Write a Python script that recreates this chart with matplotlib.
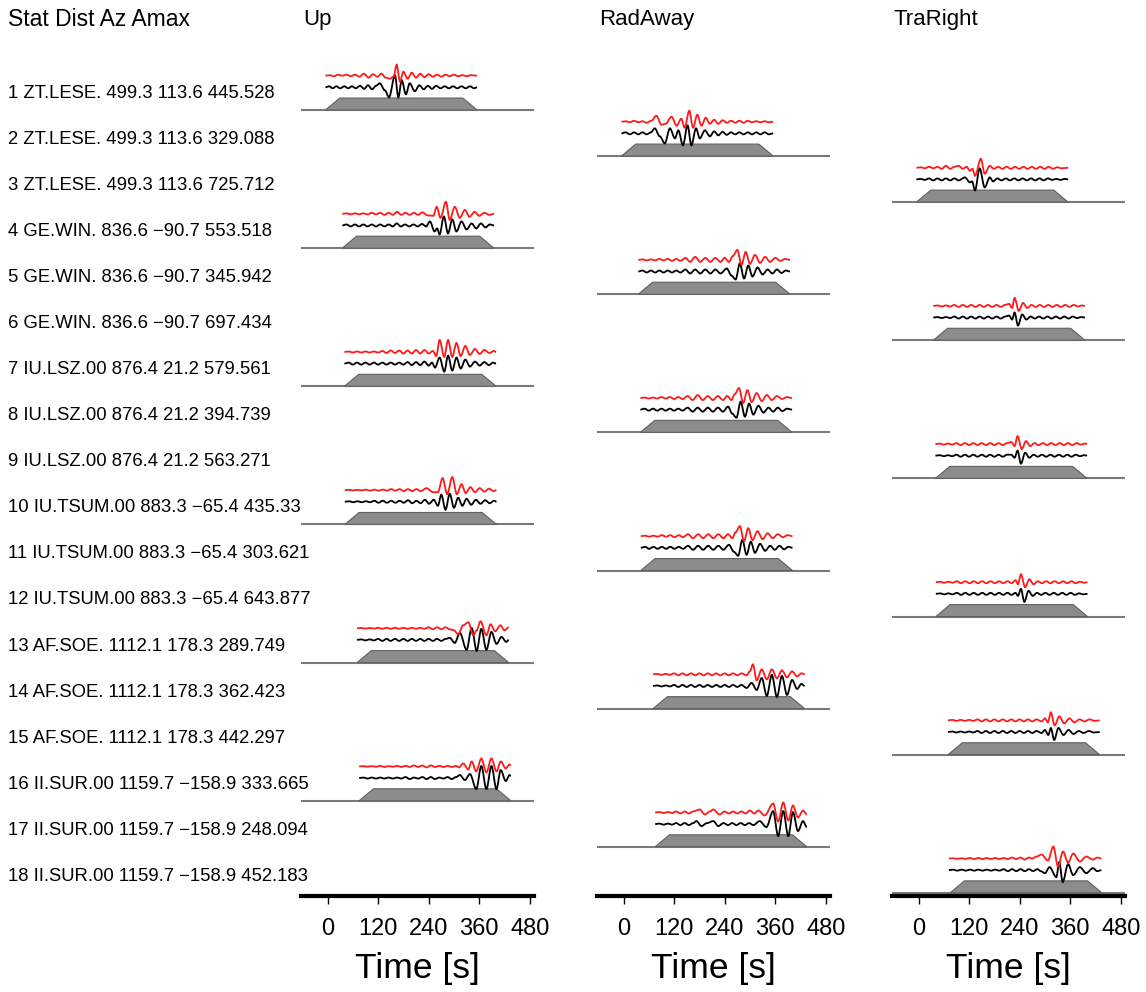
"""
Waveform fit panels: observed (black) vs synthetic (red) per station/component.
"""

import matplotlib
matplotlib.use("Agg")
import matplotlib.pyplot as plt
from matplotlib.path import Path
from matplotlib.patches import PathPatch
from matplotlib.transforms import blended_transform_factory

plt.rcParams["font.family"] = ["Liberation Sans", "DejaVu Sans"]

# ---- data -------------------------------------------------------------------
COMPONENTS = ["Up", "RadAway", "TraRight"]
STATIONS = ["ZT.LESE.", "GE.WIN.", "IU.LSZ.00", "IU.TSUM.00", "AF.SOE.", "II.SUR.00"]
DISTANCES = ["499.3", "836.6", "876.4", "883.3", "1112.1", "1159.7"]
AZIMUTHS = ["113.6", "\u221290.7", "21.2", "\u221265.4", "178.3", "\u2212158.9"]
AMAX = ["445.528", "329.088", "725.712", "553.518", "345.942", "697.434",
        "579.561", "394.739", "563.271", "435.33", "303.621", "643.877",
        "289.749", "362.423", "442.297", "333.665", "248.094", "452.183"]
WINDOW_START = [-5, 35, 40, 41, 70, 75]   # s, per station
WINDOW_LEN = 360
TAPER_LEN = 34
X_TICKS = [0, 120, 240, 360, 480]

# waveforms: (time [s], amplitude) at extrema
BLACK_01 = [(-5, 0), (4, 1), (12, -1), (21, 1), (30, -1), (40, 1), (49, -1), (58, 1), (67, -1), (77, 1.5),
            (87, -1.5), (96, 2), (106, -2), (115, 1.5), (124, 4), (136, -3), (146, -10), (160, 12),
            (168, -10), (176, 7), (186, -7), (195, 4), (207, -4), (218, 2), (228, -2), (238, 1.5),
            (248, -1.5), (258, 1.5), (268, -1), (278, 1), (288, -1), (298, 1), (308, -1), (318, 1),
            (328, -1), (338, 1), (348, -1), (355, 0)]
RED_01 = [(-5, 0), (5, 0.5), (15, -0.5), (25, 1), (35, 0), (45, 1), (55, -0.5), (65, 1), (76, -1), (86, 2),
          (98, -2), (108, 1.5), (118, -1), (128, 2), (138, -2), (148, -3), (157, -1), (164, 11), (172, -6),
          (180, 4), (190, -3), (200, 3), (210, -2), (220, 2), (230, -1.5), (240, 1.5), (250, -1), (260, 1),
          (270, -1), (280, 1), (290, -0.5), (300, 1), (310, -0.5), (320, 0.5), (330, -0.5), (340, 0.5),
          (355, 0)]
BLACK_02 = [(-5, 0), (5, 1), (15, -1), (25, 1), (35, -1), (45, 1), (55, -1), (65, 1), (74, 5), (86, -3),
            (98, -10), (110, 5), (122, -5), (130, 3), (141, -12), (152, 8), (161, -12), (172, 5), (181, -5),
            (193, 3), (205, -3), (215, 2), (225, -2), (235, 1.5), (245, -1.5), (255, 1), (265, -1), (275, 1),
            (285, -1), (295, 1), (305, -1), (315, 1), (325, -1), (335, 1), (345, -1), (355, 0)]
RED_02 = [(-5, 0), (5, 0.5), (15, -0.5), (25, 1), (35, -0.5), (45, 0.5), (55, -1), (66, 1), (78, 6), (90, -3),
          (100, -2), (114, 5), (126, -4), (137, 3), (145, -6), (156, 11), (165, -6), (175, 7), (185, -4),
          (195, 4), (205, -2), (215, 2), (225, -2), (235, 1.5), (245, -1), (255, 1), (265, -1), (275, 1),
          (285, -1), (295, 1), (305, -0.5), (315, 0.5), (325, -0.5), (335, 0.5), (345, -0.5), (355, 0)]
BLACK_03 = [(-5, 0), (5, 0.5), (15, -0.5), (25, 1), (35, -1), (45, 1), (55, -1), (65, 1), (75, -1), (85, 1),
            (95, -1), (110, 2), (122, -3), (127, -2), (134, -11), (145, 11), (157, -8), (169, 2), (177, -2),
            (187, 1), (197, -1), (207, 1), (217, -1), (227, 1), (237, -1), (247, 1), (257, -1), (267, 1),
            (277, -1), (287, 1), (297, -1), (307, 1), (317, -0.5), (327, 0.5), (337, -0.5), (347, 0.5),
            (355, 0)]
RED_03 = [(-5, 0), (5, 0.5), (15, -0.5), (25, 1), (35, -0.5), (45, 1), (55, -1), (65, 2), (75, -1), (85, 1),
          (95, 2), (105, -1), (114, 1), (122, -3), (128, -1), (134, -8), (148, 9), (157, -6), (169, 2),
          (179, -1), (189, 1), (199, -1), (209, 1), (219, -1), (229, 1), (239, -1), (249, 1), (259, -1),
          (269, 1), (279, -1), (289, 1), (299, -1), (309, 1), (319, -1), (329, 0.5), (339, -0.5), (355, 0)]
BLACK_04 = [(35, 0), (45, 1), (55, -1), (65, 1), (75, -1), (85, 1), (95, -1), (105, 1), (115, -1), (125, 1),
            (135, -1), (145, 1), (155, -1), (164, 2), (174, -1), (184, 1), (194, -1), (204, 1), (214, -1),
            (224, 1.5), (234, -1), (243, 4), (254, -6), (260, -3), (266, -9), (276, 9), (286, -8), (296, 6),
            (306, -6), (318, 4), (330, -4), (342, 2), (353, -3), (364, 2), (375, -2), (385, 1), (395, 0)]
RED_04 = [(35, 0), (45, 0.5), (55, -0.5), (65, 0.5), (75, -0.5), (85, 0.5), (95, -0.5), (105, 1), (115, -0.5),
          (125, 1), (135, -1), (145, 1), (155, -1), (165, 2), (175, -1), (185, 1), (195, -1), (205, 1),
          (215, -1), (225, 1.5), (237, -1.5), (251, -2), (259, 7), (268, -4), (281, 12), (290, -6), (302, 7),
          (314, -4), (326, 4), (337, -3), (349, 2), (360, -2), (372, 1), (384, -1), (395, 0)]
BLACK_05 = [(35, 0), (45, 1), (55, -1), (65, 1), (75, -1), (85, 1), (95, -1), (105, 1), (115, -1), (125, 1),
            (135, -1), (147, 2), (158, -2), (170, 2), (182, -2), (194, 2), (206, -2), (218, 2), (230, -2),
            (245, 3), (256, -4), (266, -8), (276, 8), (286, -7), (296, 6), (306, -5), (318, 4), (330, -3),
            (342, 2), (353, -2), (364, 2), (375, -1.5), (385, 1), (395, 0)]
RED_05 = [(35, 0), (45, 0.5), (55, -0.5), (65, 0.5), (75, -0.5), (85, 1), (95, -0.5), (105, 1), (115, -1),
          (125, 1), (135, -1), (147, 2), (158, -2), (170, 3), (182, -2), (194, 2), (206, -2), (218, 2),
          (230, -2), (240, 2), (250, -2), (260, 4), (270, 10), (280, -5), (290, 8), (300, -4), (312, 5),
          (324, -3), (336, 3), (348, -2), (360, 2), (372, -1), (384, 1), (395, 0)]
BLACK_06 = [(35, 0), (45, 0.5), (55, -0.5), (65, 0.5), (75, -0.5), (85, 1), (95, -1), (105, 1), (115, -1),
            (125, 1), (135, -1), (145, 1), (155, -1), (165, 1), (175, -1), (185, 1), (195, -1), (205, 1),
            (215, 2), (222, -2), (228, 5), (236, -8), (246, 3), (256, -2), (266, 1), (276, -1), (286, 1),
            (296, -1), (306, 1), (316, -1), (326, 1), (336, -1), (346, 1), (356, -1), (366, 1), (376, -0.5),
            (386, 0.5), (395, 0)]
RED_06 = [(35, 0), (45, 0.5), (55, -0.5), (65, 0.5), (75, -0.5), (85, 1), (95, -1), (105, 1), (115, -1),
          (125, 1), (135, -1), (145, 1), (155, -1), (165, 1), (175, -1), (185, 1), (195, -1), (205, 1),
          (215, 2), (222, -2), (228, 8), (238, -5), (248, 3), (258, -2), (268, 1), (278, -1), (288, 1),
          (298, -1), (308, 1), (318, -1), (328, 1), (338, -1), (348, 1), (358, -1), (368, 1), (378, -0.5),
          (388, 0.5), (395, 0)]
BLACK_07 = [(40, 0), (50, 1), (60, -1), (70, 1), (80, -1), (90, 1), (100, -1), (110, 1), (120, -1), (130, 1),
            (140, -1), (150, 1), (160, -1), (170, 1), (180, -1), (190, 1.5), (200, -1.5), (210, 1.5),
            (220, -1.5), (230, 2), (240, -2), (248, 1), (255, -4), (266, 6), (277, -8), (286, 8), (296, -7),
            (306, 6), (316, -5), (327, 4), (338, -3), (350, 2), (361, -2), (372, 1.5), (383, -1.5), (393, 1),
            (400, 0)]
RED_07 = [(40, 0), (50, 0.5), (60, -0.5), (70, 0.5), (80, -0.5), (90, 0.5), (100, -0.5), (110, 0.5),
          (120, -0.5), (130, 1), (140, -1), (150, 1.5), (160, -1), (170, 1.5), (180, -1.5), (190, 1.5),
          (200, -1.5), (210, 2), (220, -1.5), (230, 2), (240, -1.5), (250, 1), (258, -4), (266, 12),
          (277, -5), (286, 12), (296, -5), (306, 9), (316, -4), (327, 6), (338, -3), (350, 3), (361, -2),
          (372, 2), (384, -1), (395, 1), (400, 0)]
BLACK_08 = [(40, 0), (50, 1), (60, -1), (70, 1), (80, -1), (90, 1), (100, -1), (110, 1), (120, -1), (130, 1),
            (140, -1), (152, 2), (164, -2), (176, 2), (188, -2), (200, 2), (212, -2), (224, 2), (236, -2),
            (248, 3), (258, -4), (268, -8), (278, 8), (288, -7), (298, 6), (308, -5), (320, 4), (332, -3),
            (344, 2), (355, -2), (366, 2), (377, -1.5), (388, 1), (400, 0)]
RED_08 = [(40, 0), (50, 0.5), (60, -0.5), (70, 0.5), (80, -0.5), (90, 1), (100, -0.5), (110, 1), (120, -1),
          (130, 1), (140, -1), (152, 2), (164, -2), (176, 3), (188, -2), (200, 2), (212, -2), (224, 2),
          (236, -2), (246, 2), (256, -2), (264, 4), (274, 10), (284, -5), (294, 8), (304, -4), (316, 5),
          (328, -3), (340, 3), (352, -2), (364, 2), (376, -1), (388, 1), (400, 0)]
BLACK_09 = [(40, 0), (50, 0.5), (60, -0.5), (70, 0.5), (80, -0.5), (90, 1), (100, -1), (110, 1), (120, -1),
            (130, 1), (140, -1), (150, 1), (160, -1), (170, 1), (180, -1), (190, 1), (200, -1), (210, 1),
            (220, 1), (228, -2), (235, 5), (243, -8), (253, 3), (263, -2), (273, 1), (283, -1), (293, 1),
            (303, -1), (313, 1), (323, -1), (333, 1), (343, -1), (353, 1), (363, -1), (373, 1), (383, -0.5),
            (393, 0.5), (400, 0)]
RED_09 = [(40, 0), (50, 0.5), (60, -0.5), (70, 0.5), (80, -0.5), (90, 1), (100, -1), (110, 1), (120, -1),
          (130, 1), (140, -1), (150, 1), (160, -1), (170, 1), (180, -1), (190, 1), (200, -1), (210, 1),
          (220, 2), (228, -2), (235, 8), (245, -5), (255, 3), (265, -2), (275, 1), (285, -1), (295, 1),
          (305, -1), (315, 1), (325, -1), (335, 1), (345, -1), (355, 1), (365, -1), (375, 1), (385, -0.5),
          (395, 0.5), (400, 0)]
BLACK_10 = [(41, 0), (51, 0.5), (61, -0.5), (71, 0.5), (81, -0.5), (91, 0.5), (101, -0.5), (111, 1),
            (121, -1), (131, 1), (141, -1), (151, 1), (161, -1), (171, 1), (181, -1), (191, 1.5), (201, -1.5),
            (211, 1), (221, -1.5), (231, 2), (241, -2), (252, 2), (262, -4), (270, 7), (280, -8), (290, 8),
            (300, -6), (310, 4), (320, -4), (330, 3), (341, -3), (352, 2), (363, -2), (374, 1.5), (385, -1.5),
            (395, 1), (401, 0)]
RED_10 = [(41, 0), (51, 0.3), (61, -0.3), (71, 0.3), (81, -0.3), (91, 0.5), (101, -0.5), (111, 0.5),
          (121, -0.5), (131, 0.5), (141, -0.5), (151, 1), (161, -0.5), (171, 1), (181, -1), (191, 1),
          (201, -1), (211, 1), (221, -1), (235, 2), (250, -2), (262, -2), (273, 12), (284, -4), (296, 13),
          (307, -4), (318, 6), (328, -3), (339, 3), (350, -2), (361, 2), (372, -1.5), (383, 1.5), (394, -1),
          (401, 0)]
BLACK_11 = [(41, 0), (51, 1), (61, -1), (71, 1), (81, -1), (91, 1), (101, -1), (111, 1), (121, -1), (131, 1),
            (141, -1), (153, 2), (165, -2), (177, 2), (189, -2), (201, 2), (213, -2), (225, 2), (237, -2),
            (250, 3), (262, -4), (272, -8), (282, 8), (292, -7), (302, 6), (312, -5), (324, 4), (336, -3),
            (348, 2), (359, -2), (370, 2), (381, -1.5), (391, 1), (401, 0)]
RED_11 = [(41, 0), (51, 0.5), (61, -0.5), (71, 0.5), (81, -0.5), (91, 1), (101, -0.5), (111, 1), (121, -1),
          (131, 1), (141, -1), (153, 2), (165, -2), (177, 2), (189, -2), (201, 2), (213, -2), (225, 2),
          (237, -2), (248, 2), (258, -2), (266, 4), (276, 10), (286, -5), (296, 8), (306, -4), (318, 5),
          (330, -3), (342, 3), (354, -2), (366, 2), (378, -1), (390, 1), (401, 0)]
BLACK_12 = [(41, 0), (51, 0.5), (61, -0.5), (71, 0.5), (81, -0.5), (91, 1), (101, -1), (111, 1), (121, -1),
            (131, 1), (141, -1), (151, 1), (161, -1), (171, 1), (181, -1), (191, 1), (201, -1), (211, 1),
            (221, -1), (230, 1), (236, -2), (243, 5), (251, -8), (261, 3), (271, -2), (281, 1), (291, -1),
            (301, 1), (311, -1), (321, 1), (331, -1), (341, 1), (351, -1), (361, 1), (371, -1), (381, 0.5),
            (391, -0.5), (401, 0)]
RED_12 = [(41, 0), (51, 0.5), (61, -0.5), (71, 0.5), (81, -0.5), (91, 1), (101, -1), (111, 1), (121, -1),
          (131, 1), (141, -1), (151, 1), (161, -1), (171, 1), (181, -1), (191, 1), (201, -1), (211, 1),
          (221, -1), (230, 2), (236, -2), (243, 8), (253, -5), (263, 3), (273, -2), (283, 1), (293, -1),
          (303, 1), (313, -1), (323, 1), (333, -1), (343, 1), (353, -1), (363, 1), (373, -1), (383, 0.5),
          (393, -0.5), (401, 0)]
BLACK_13 = [(70, 0), (80, 0.5), (90, -0.5), (100, 0.5), (110, -0.5), (120, 1), (130, -1), (140, 1), (150, -1),
            (160, 1), (170, -1), (180, 1), (190, -1), (200, 1), (210, -1), (220, 1), (230, -1), (240, 1),
            (250, -1), (260, 1), (270, -1), (280, 1), (290, 2), (302, -3), (314, 7), (330, -10), (342, 12),
            (354, -11), (365, 11), (377, -10), (389, 8), (401, -4), (413, 3), (424, -2), (430, 0)]
RED_13 = [(70, 0), (80, 0.3), (90, -0.3), (100, 0.3), (110, -0.3), (120, 0.5), (130, -0.5), (140, 0.5),
          (150, -0.5), (160, 0.5), (170, -0.5), (180, 0.5), (190, -0.5), (200, 0.5), (210, -0.5), (220, 0.5),
          (230, -0.5), (240, 1), (250, -1), (260, 1), (270, -1), (280, 1), (290, -1), (300, -2), (310, -6),
          (322, 3), (334, 6), (346, -7), (354, -2), (363, 7), (377, -7), (387, 4), (398, -3), (410, 3),
          (420, -2), (430, 1)]
BLACK_14 = [(70, 0), (80, 0.5), (90, -0.5), (100, 0.5), (110, -0.5), (120, 1), (130, -1), (140, 1),
            (150, -1), (160, 1), (170, -1), (180, 1), (190, -1), (200, 1), (210, -1), (220, 1), (230, -1),
            (240, 1), (250, -1), (260, 1), (270, -1), (280, 1), (292, -2), (304, 3), (316, -4), (328, 8),
            (340, -10), (352, 11), (364, -11), (376, 10), (388, -9), (400, 6), (412, -3), (422, 2), (430, 0)]
RED_14 = [(70, 0), (80, 0.5), (90, -0.5), (100, 0.5), (110, -0.5), (120, 1), (130, -1), (140, 1), (150, -1),
          (160, 1), (170, -1), (180, 1), (190, -1), (200, 1), (210, -1), (220, 1), (230, -1), (240, 1),
          (250, -1), (260, 1), (270, -1), (280, 1), (292, -1), (300, 3), (307, 10), (316, -6), (328, 5),
          (340, -5), (352, 5), (364, -4), (376, 4), (388, -3), (400, 3), (412, -2), (422, 1), (430, 0)]
BLACK_15 = [(70, 0), (80, 0.5), (90, -0.5), (100, 0.5), (110, -0.5), (120, 0.5), (130, -0.5), (140, 1),
            (150, -1), (160, 1), (170, -1), (180, 1), (190, -1), (200, 1), (210, -1), (220, 1), (230, -1),
            (240, 1), (250, -1), (260, 1), (270, -1), (280, 1), (292, -1), (300, 2), (308, -3), (314, 4),
            (322, -8), (332, 4), (344, -3), (356, 2), (368, -2), (380, 1), (392, -1), (404, 1), (416, -0.5),
            (430, 0)]
RED_15 = [(70, 0), (80, 0.5), (90, -0.5), (100, 0.5), (110, -0.5), (120, 0.5), (130, -0.5), (140, 1),
          (150, -1), (160, 1), (170, -1), (180, 1), (190, -1), (200, 1), (210, -1), (220, 1), (230, -1),
          (240, 1), (250, -1), (260, 1), (270, -1), (280, 1), (292, -1), (300, 2), (307, -2), (314, 8),
          (323, -5), (334, 4), (346, -3), (358, 2), (370, -2), (382, 1), (394, -1), (406, 1), (418, -0.5),
          (430, 0)]
BLACK_16 = [(75, 0), (85, 0.5), (95, -0.5), (105, 0.5), (115, -0.5), (125, 0.5), (135, -0.5), (145, 0.5),
            (155, -0.5), (165, 0.5), (175, -0.5), (185, 1), (195, -1), (205, 0.5), (215, -0.5), (225, 1),
            (235, -1), (245, 1), (255, -1), (265, 0.5), (275, -0.5), (285, 1), (295, -1), (305, 1), (314, 3),
            (326, -2), (338, 4), (353, -11), (365, 12), (377, -11), (389, 12), (401, -11), (411, 8),
            (423, -3), (432, 3), (435, 2)]
RED_16 = [(75, 0), (85, 0.3), (95, -0.3), (105, 0.3), (115, -0.3), (125, 0.5), (135, -0.5), (145, 0.3),
          (155, -0.3), (165, 0.5), (175, -0.5), (185, 0.5), (195, -0.5), (205, 1), (215, -0.5), (225, 1),
          (235, -1), (245, 1), (255, -0.5), (265, 0.5), (275, -0.5), (285, 0.5), (295, -0.5), (305, 0.5),
          (312, -1), (322, 3), (334, -3), (342, 5), (353, -5), (365, 8), (377, -6), (389, 8), (401, -5),
          (411, 5), (423, -2), (432, 2), (435, 1)]
BLACK_17 = [(75, 0), (85, 0.5), (95, -0.5), (105, 0.5), (115, -0.5), (125, 1), (135, -1), (145, 1), (155, -1),
            (165, 1), (173, 3), (185, -2), (198, 1), (213, 3), (225, -2), (237, 1), (248, -1), (258, 1),
            (268, -1), (278, 1), (288, -1), (298, 1), (308, -1), (323, 3), (339, -3), (355, 13), (367, -12),
            (379, 13), (391, -12), (402, 12), (414, -7), (426, 3), (435, -3)]
RED_17 = [(75, 0), (85, 0.5), (95, -0.5), (105, 0.5), (115, -0.5), (125, 1), (135, -1), (145, 1), (155, -1),
          (165, 1), (181, 3), (193, -2), (205, 1), (213, 3), (228, -2), (240, 1), (250, -1), (260, 1),
          (270, -1), (280, 1), (290, -1), (300, 2), (310, -1), (320, 2), (335, -3), (355, 9), (367, -9),
          (379, 10), (391, -8), (402, 7), (414, -5), (426, 2), (435, -2)]
BLACK_18 = [(72, 0), (82, 0.5), (92, -0.5), (102, 0.5), (112, -0.5), (122, 0.5), (132, -0.5), (142, 0.5),
            (152, -0.5), (162, 0.5), (172, -0.5), (182, 0.5), (192, -0.5), (202, 1), (212, -1), (222, 1),
            (232, -1), (242, 1), (252, -1), (262, 1), (272, -1), (282, 1), (290, -1), (300, -3), (311, 3),
            (327, -7), (334, 8), (342, -12), (355, 6), (367, -5), (383, 3), (398, -3), (414, 2), (424, -1),
            (434, 0)]
RED_18 = [(72, 0), (82, 0.3), (92, -0.3), (102, 0.3), (112, -0.3), (122, 0.5), (132, -0.5), (142, 0.5),
          (152, -0.5), (162, 0.5), (172, -0.5), (182, 0.5), (192, -0.5), (202, 0.5), (212, -0.5), (222, 1),
          (232, -0.5), (242, 1), (252, -1), (262, 1), (270, 0), (280, 2), (292, 4), (307, -2), (320, 12),
          (331, -8), (343, 7), (355, -4), (367, 5), (383, -3), (398, 2), (414, -1), (424, 1), (434, 0)]

BLACK = [BLACK_01, BLACK_02, BLACK_03, BLACK_04, BLACK_05, BLACK_06, BLACK_07, BLACK_08, BLACK_09,
         BLACK_10, BLACK_11, BLACK_12, BLACK_13, BLACK_14, BLACK_15, BLACK_16, BLACK_17, BLACK_18]
RED = [RED_01, RED_02, RED_03, RED_04, RED_05, RED_06, RED_07, RED_08, RED_09,
       RED_10, RED_11, RED_12, RED_13, RED_14, RED_15, RED_16, RED_17, RED_18]

# ---- layout ----------------------------------------------------------------
W, H = 1146, 992
AX_LEFT_PX = [301, 597, 892]
AX_W_PX = 233
AX_BOT_PX, AX_TOP_PX = 896, 40
ROW_PX = 46.05
ROW1_PX = 110
AMP = 1 / ROW_PX          # amplitude units are pixels of the original
BLACK_OFF, RED_OFF, TAPER_H = 0.493, 0.745, 0.26


def extrema_path(pts, y_off):
    """Smooth path through extrema: horizontal tangent at every point."""
    verts = [(pts[0][0], y_off + pts[0][1] * AMP)]
    codes = [Path.MOVETO]
    for (ta, aa), (tb, ab) in zip(pts[:-1], pts[1:]):
        dt = (tb - ta) / 3
        ya, yb = y_off + aa * AMP, y_off + ab * AMP
        verts += [(ta + dt, ya), (tb - dt, yb), (tb, yb)]
        codes += [Path.CURVE4] * 3
    return Path(verts, codes)


y_bot = -17 - (AX_BOT_PX - (ROW1_PX + 17 * ROW_PX)) / ROW_PX
y_top = (ROW1_PX - AX_TOP_PX) / ROW_PX

fig = plt.figure(figsize=(W / 100, H / 100), dpi=100)
axes = []
for left in AX_LEFT_PX:
    ax = fig.add_axes([left / W, 1 - AX_BOT_PX / H, AX_W_PX / W, (AX_BOT_PX - AX_TOP_PX) / H])
    ax.set_xlim(-63, 490)
    ax.set_ylim(y_bot, y_top)
    for s in ("left", "right", "top"):
        ax.spines[s].set_visible(False)
    ax.spines["bottom"].set_linewidth(3)
    ax.set_yticks([])
    ax.set_xticks(X_TICKS)
    ax.tick_params(axis="x", length=5.5, width=1, pad=10, labelsize=17)
    ax.set_xlabel("Time [s]", fontsize=25.5, labelpad=9)
    ax.patch.set_visible(False)
    axes.append(ax)

fig.text(8 / W, 1 - 20 / H, "Stat Dist Az Amax", fontsize=16.5, va="center", ha="left")
for left, comp in zip(AX_LEFT_PX, COMPONENTS):
    fig.text((left + 2) / W, 1 - 20 / H, comp, fontsize=16, va="center", ha="left")

lab_tr = blended_transform_factory(fig.transFigure, axes[0].transData)

for i in range(18):
    st = i // 3
    ax = axes[i % 3]
    y0 = -i
    t0 = WINDOW_START[st]
    t1 = t0 + WINDOW_LEN

    label = f"{i + 1} {STATIONS[st]} {DISTANCES[st]} {AZIMUTHS[st]} {AMAX[i]}"
    axes[0].text(8 / W, y0 + 0.36, label, transform=lab_tr, fontsize=13.3,
                 va="center", ha="left", clip_on=False)

    ax.axhline(y0, color="#7a7a7a", lw=1.5, zorder=1)
    ax.fill([t0, t0 + TAPER_LEN, t1 - TAPER_LEN, t1], [y0, y0 + TAPER_H, y0 + TAPER_H, y0],
            facecolor="#8c8c8c", edgecolor="#606060", lw=0.8, zorder=2)

    ax.add_patch(PathPatch(extrema_path(BLACK[i], y0 + BLACK_OFF), fill=False,
                           edgecolor="black", lw=1.3, zorder=3))
    ax.add_patch(PathPatch(extrema_path(RED[i], y0 + RED_OFF), fill=False,
                           edgecolor="#ff1a1a", lw=1.3, zorder=3))

fig.savefig("out.png", dpi=100, facecolor="white")
